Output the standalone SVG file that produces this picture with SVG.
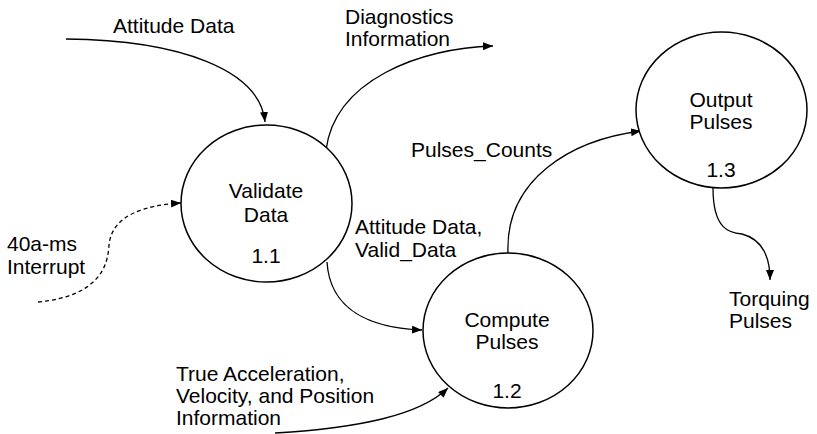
<svg xmlns="http://www.w3.org/2000/svg" width="817" height="434" viewBox="0 0 817 434">
<style>
text{font-family:"Liberation Sans",Arial,sans-serif;font-size:21px;fill:#000}
.c{text-anchor:middle}
.node{fill:#fff;stroke:#000;stroke-width:1.5}
.flow{fill:none;stroke:#000;stroke-width:1.3}
.dash{stroke-dasharray:4,3}
</style>
<defs>
<marker id="ah" markerWidth="10" markerHeight="8" refX="10" refY="4" orient="auto" markerUnits="userSpaceOnUse">
<path d="M0,0 L10,4 L0,8 Z" fill="#000"/>
</marker>
</defs>
<g id="connectors">
<path class="flow" d="M66,39 C180,40 260,70 265,122" marker-end="url(#ah)"/>
<path class="flow" d="M326,150 C335,80 420,48 493,46" marker-end="url(#ah)"/>
<path class="flow dash" d="M38,302 C100,296 108,265 109,245 C112,215 145,205 181,203" marker-end="url(#ah)"/>
<path class="flow" d="M327,262 C330,310 370,328 422,330" marker-end="url(#ah)"/>
<path class="flow" d="M275,433 C360,428 420,415 448,388" marker-end="url(#ah)"/>
<path class="flow" d="M508,253 C505,180 570,140 641,131" marker-end="url(#ah)"/>
<path class="flow" d="M713,188 C713,230 730,233 742,234 C765,240 770,260 770,280" marker-end="url(#ah)"/>
</g>
<g id="validate">
<ellipse class="node" cx="266.5" cy="203.5" rx="85.5" ry="78.5"/>
<text class="c" x="266" y="198">Validate</text>
<text class="c" x="266" y="222">Data</text>
<text class="c" x="266" y="263">1.1</text>
</g>
<g id="compute">
<ellipse class="node" cx="508" cy="330.5" rx="85" ry="77.5"/>
<text class="c" x="507" y="327">Compute</text>
<text class="c" x="507" y="349">Pulses</text>
<text class="c" x="507" y="398">1.2</text>
</g>
<g id="output">
<ellipse class="node" cx="721.5" cy="110" rx="85.5" ry="78"/>
<text class="c" x="721" y="107">Output</text>
<text class="c" x="721" y="129">Pulses</text>
<text class="c" x="721" y="177">1.3</text>
</g>
<g id="labels">
<text x="113" y="33">Attitude Data</text>
<text x="345" y="24">Diagnostics</text>
<text x="345" y="46">Information</text>
<text x="411" y="157">Pulses_Counts</text>
<text x="355" y="234">Attitude Data,</text>
<text x="355" y="257">Valid_Data</text>
<text x="7" y="251">40a-ms</text>
<text x="7" y="274">Interrupt</text>
<text x="729" y="306">Torquing</text>
<text x="729" y="328">Pulses</text>
<text x="176" y="381">True Acceleration,</text>
<text x="176" y="403">Velocity, and Position</text>
<text x="176" y="425">Information</text>
</g>
</svg>
